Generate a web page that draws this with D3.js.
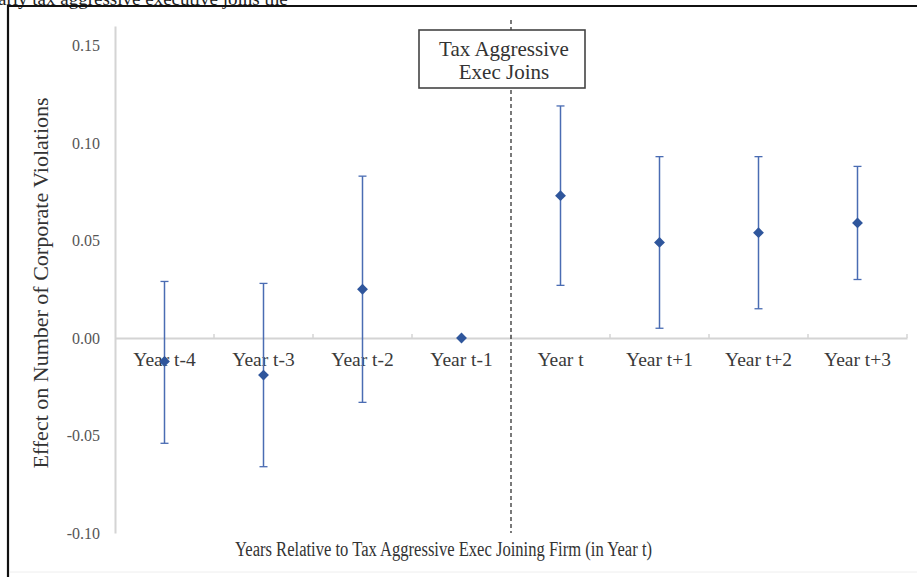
<!DOCTYPE html>
<html>
<head>
<meta charset="utf-8">
<script src="https://cdn.jsdelivr.net/npm/d3@7"></script>
<style>
  html, body { margin: 0; padding: 0; background: #fff; }
  svg { display: block; }
  text { font-family: "Liberation Serif", "DejaVu Serif", serif; }
</style>
</head>
<body>
<svg id="chart" width="917" height="577"></svg>
<script>
// Event-study estimates: effect on corporate violations by year relative to exec joining
const categories = ["Year t-4", "Year t-3", "Year t-2", "Year t-1", "Year t", "Year t+1", "Year t+2", "Year t+3"];
const estimates  = [-0.012, -0.019, 0.025, 0.000, 0.073, 0.049, 0.054, 0.059];
const upperCI    = [0.029, 0.028, 0.083, null, 0.119, 0.093, 0.093, 0.088];
const lowerCI    = [-0.054, -0.066, -0.033, null, 0.027, 0.005, 0.015, 0.030];
const yTicks     = [-0.10, -0.05, 0.00, 0.05, 0.10, 0.15];
const eventLabel = ["Tax Aggressive", "Exec Joins"];
const xTitle = "Years Relative to Tax Aggressive Exec Joining Firm (in Year t)";
const yTitle = "Effect on Number of Corporate Violations";
const caption = "arly tax aggressive executive joins the";

const svg = d3.select("#chart");
const W = 917, H = 577;

// Caption line above the frame (runs off the top edge)
svg.append("text")
  .attr("x", -2).attr("y", 5)
  .attr("font-size", 19).attr("fill", "#222")
  .text(caption);

// Outer frame
svg.append("path")
  .attr("d", `M8,${H + 5} L8,6 L${W + 5},6`)
  .attr("fill", "none").attr("stroke", "#111").attr("stroke-width", 2.2);
svg.append("line")
  .attr("x1", 10).attr("x2", W).attr("y1", 572).attr("y2", 572)
  .attr("stroke", "#eee").attr("stroke-width", 1);

const x = d3.scaleBand().domain(categories).range([115, 907]).paddingInner(0).paddingOuter(0);
const y = d3.scaleLinear().domain([-0.10, 0.16]).range([533, 26]);

const axisGrey = "#d4d4d4";
const fmt = d => d3.format(".2f")(d).replace("\u2212", "-");

// Y axis
const yAxis = svg.append("g").attr("transform", "translate(115,0)")
  .call(d3.axisLeft(y).tickValues(yTicks).tickFormat(fmt).tickSize(0).tickPadding(15));
yAxis.select(".domain").attr("stroke", axisGrey).attr("stroke-width", 2);
yAxis.selectAll("text")
  .attr("font-size", 16).attr("fill", "#555");

// X axis along zero
const xAxis = svg.append("g").attr("transform", `translate(0,${y(0)})`)
  .call(d3.axisBottom(x).tickSize(0).tickPadding(0).tickFormat(""));
xAxis.select(".domain").attr("stroke", axisGrey).attr("stroke-width", 2);
xAxis.selectAll(".tick").remove();

// Category boundary tick marks
const bounds = categories.map(c => x(c) + x.bandwidth());
svg.append("g").selectAll("line").data(bounds).join("line")
  .attr("x1", d => d).attr("x2", d => d)
  .attr("y1", y(0) - 4).attr("y2", y(0))
  .attr("stroke", axisGrey).attr("stroke-width", 1.5);

// Category labels
svg.append("g").selectAll("text").data(categories).join("text")
  .attr("x", d => x(d) + x.bandwidth() / 2)
  .attr("y", y(0) + 28)
  .attr("text-anchor", "middle")
  .attr("font-size", 19.5).attr("fill", "#3a3a3a")
  .text(d => d);

// Event line between t-1 and t
const eventX = x("Year t");
svg.append("line")
  .attr("x1", eventX).attr("x2", eventX)
  .attr("y1", 20).attr("y2", 533)
  .attr("stroke", "#333").attr("stroke-width", 1.3)
  .attr("stroke-dasharray", "4,3");

// Event annotation box
const box = svg.append("g");
box.append("rect")
  .attr("x", 419).attr("y", 30).attr("width", 166).attr("height", 58)
  .attr("fill", "#fff").attr("stroke", "#444").attr("stroke-width", 1.6);
box.selectAll("text").data(eventLabel).join("text")
  .attr("x", 504).attr("y", (d, i) => 56 + i * 23)
  .attr("text-anchor", "middle")
  .attr("font-size", 21).attr("fill", "#333")
  .text(d => d);

// Error bars
const barColor = "#4a6cb3";
const pts = categories.map((c, i) => ({ c, v: estimates[i], hi: upperCI[i], lo: lowerCI[i] }));
const eb = svg.append("g").selectAll("g").data(pts.filter(d => d.hi !== null)).join("g");
const cx = d => x(d.c) + x.bandwidth() / 2;
eb.append("line")
  .attr("x1", cx).attr("x2", cx)
  .attr("y1", d => y(d.hi)).attr("y2", d => y(d.lo))
  .attr("stroke", barColor).attr("stroke-width", 1.5);
eb.append("line")
  .attr("x1", d => cx(d) - 4).attr("x2", d => cx(d) + 4)
  .attr("y1", d => y(d.hi)).attr("y2", d => y(d.hi))
  .attr("stroke", barColor).attr("stroke-width", 1.3);
eb.append("line")
  .attr("x1", d => cx(d) - 4).attr("x2", d => cx(d) + 4)
  .attr("y1", d => y(d.lo)).attr("y2", d => y(d.lo))
  .attr("stroke", barColor).attr("stroke-width", 1.3);

// Point estimates as diamonds
svg.append("g").selectAll("path").data(pts).join("path")
  .attr("transform", d => `translate(${cx(d)},${y(d.v)})`)
  .attr("d", d3.symbol(d3.symbolDiamond2, 75))
  .attr("fill", "#2f569c");

// Axis titles
svg.append("text")
  .attr("transform", `translate(48,${283}) rotate(-90)`)
  .attr("text-anchor", "middle")
  .attr("font-size", 22).attr("fill", "#333")
  .text(yTitle);

svg.append("text")
  .attr("x", 235).attr("y", 556)
  .attr("font-size", 20).attr("fill", "#333")
  .attr("textLength", 417).attr("lengthAdjust", "spacingAndGlyphs")
  .text(xTitle);
</script>
</body>
</html>
